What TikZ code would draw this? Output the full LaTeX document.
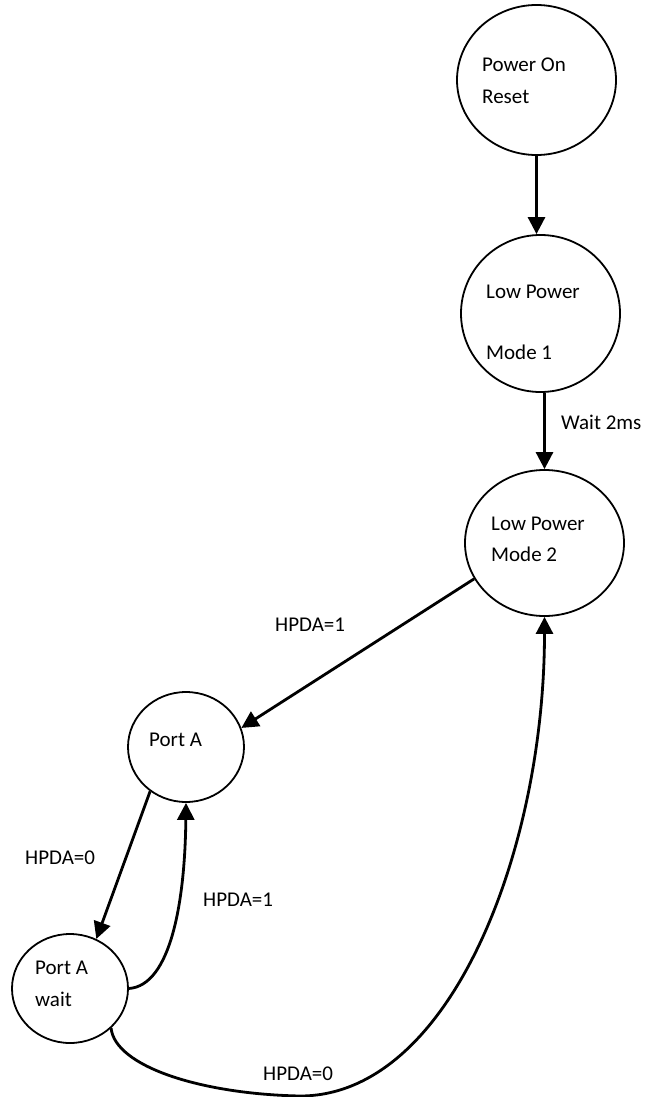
\documentclass[tikz,border=0pt]{standalone}
\usepackage{fontspec}
\setmainfont{Carlito}
\usetikzlibrary{shapes.geometric,arrows.meta}
\begin{document}
\begin{tikzpicture}[x=1pt,y=-1pt,
  state/.style={draw,ellipse,line width=1.8pt,inner sep=0pt,fill=none},
  txt/.style={anchor=west,inner sep=0pt,font=\fontsize{21}{25}\selectfont},
  conn/.style={line width=2.8pt,-{Triangle[length=17pt,width=17pt]}}]
\useasboundingbox[fill=white] (0,0) rectangle (646,1097);
% states
\node[state,minimum width=159pt,minimum height=150pt] (por) at (536.5,80) {};
\node[state,minimum width=159pt,minimum height=157pt] (lpm1) at (540.5,313.5) {};
\node[state,minimum width=159pt,minimum height=146pt] (lpm2) at (544.5,543) {};
\node[state,minimum width=116pt,minimum height=110pt] (porta) at (186,747) {};
\node[state,minimum width=116pt,minimum height=109pt] (wait) at (70,988.5) {};
% texts in states
\node[txt] (t1) at (482,65) {Power On};
\node[txt] (t2) at (482,97) {Reset};
\node[txt] (t3) at (486,292) {Low Power};
\node[txt] (t4) at (486,352) {Mode 1};
\node[txt] (t5) at (491,524) {Low Power};
\node[txt] (t6) at (491,554) {Mode 2};
\node[txt] (t7) at (149,740) {Port A};
\node[txt] (t8) at (35,968) {Port A};
\node[txt] (t9) at (35,999) {wait};
% connectors
\draw[conn] (por.south) -- (por.south |- lpm1.north);
\draw[conn] (lpm2.north |- lpm1.south) -- (lpm2.north);
\draw[conn] (lpm2.207) -- (porta.19);
\draw[conn] (porta.231) -- (wait.62.5);
\draw[conn] (wait.east) .. controls +(42,-3) and +(-1,98) .. (porta.south);
\coordinate (bot) at (300,1096);
\draw[conn] (wait.316) .. controls +(4,38) and (200,1094) .. (bot) .. controls (450,1096) and +(0,234) .. (lpm2.south);
% labels
\node[txt] (l1) at (561,422) {Wait 2ms};
\node[txt] (l2) at (275,625) {HPDA=1};
\node[txt] (l3) at (25,858) {HPDA=0};
\node[txt] (l4) at (203,900) {HPDA=1};
\node[txt] (l5) at (263,1074) {HPDA=0};
\end{tikzpicture}
\end{document}
